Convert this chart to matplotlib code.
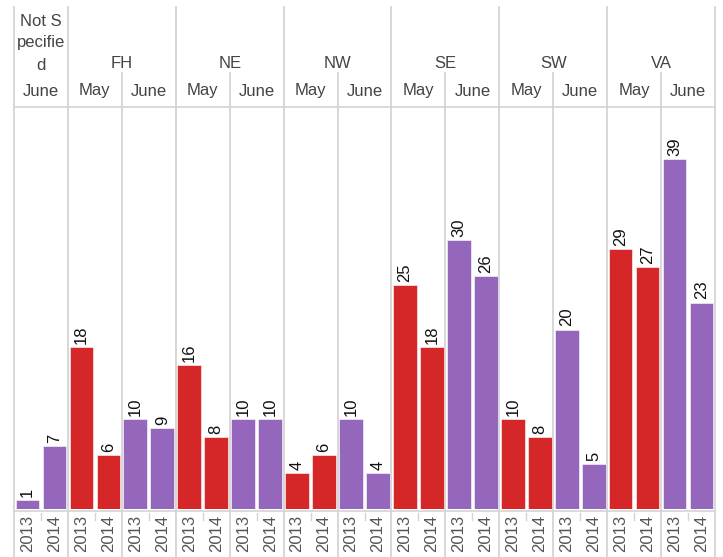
import matplotlib
matplotlib.use("Agg")
import matplotlib.pyplot as plt
from matplotlib.transforms import blended_transform_factory

plt.rcParams['font.family'] = ['Liberation Sans', 'DejaVu Sans']

# ---- data ----
regions = ["Not Specified", "FH", "NE", "NW", "SE", "SW", "VA"]
region_header_lines = {"Not Specified": ["Not S", "pecifie", "d"]}
months_by_region = {
    "Not Specified": ["June"],
    "FH": ["May", "June"], "NE": ["May", "June"], "NW": ["May", "June"],
    "SE": ["May", "June"], "SW": ["May", "June"], "VA": ["May", "June"],
}
years = ["2013", "2014"]
may_2013 = {"FH": 18, "NE": 16, "NW": 4, "SE": 25, "SW": 10, "VA": 29}
may_2014 = {"FH": 6, "NE": 8, "NW": 6, "SE": 18, "SW": 8, "VA": 27}
june_2013 = {"Not Specified": 1, "FH": 10, "NE": 10, "NW": 10, "SE": 30, "SW": 20, "VA": 39}
june_2014 = {"Not Specified": 7, "FH": 9, "NE": 10, "NW": 4, "SE": 26, "SW": 5, "VA": 23}
values = {("May", "2013"): may_2013, ("May", "2014"): may_2014,
          ("June", "2013"): june_2013, ("June", "2014"): june_2014}
month_colors = {"May": "#d62728", "June": "#9467bd"}

W, H = 723, 557
fig = plt.figure(figsize=(W / 100, H / 100), dpi=100)
def fy(p):
    return 1 - p / H

left_px, right_px, top_px, base_px = 14, 715, 107, 509
ax = fig.add_axes([left_px / W, fy(base_px), (right_px - left_px) / W, (base_px - top_px) / H])

text_color = "#444444"
year_color = "#555555"
label_color = "#111111"
line_color = "#d4d4d4"
fs = 12

# build bar sequence
xs, hs, cs, yl = [], [], [], []
region_bounds = []
month_info = []
i = 0
for r in regions:
    r_start = i
    for m in months_by_region[r]:
        m_start = i
        for y in years:
            xs.append(i); hs.append(values[(m, y)][r]); cs.append(month_colors[m]); yl.append(y)
            i += 1
        month_info.append((m, m_start, i - 1))
    region_bounds.append((r, r_start, i - 1))
n = i

ax.bar(xs, hs, width=0.88, color=cs, edgecolor="white", linewidth=0.4, zorder=3)
for x, h in zip(xs, hs):
    ax.text(x, h + 0.35, str(h), rotation=90, ha="center", va="bottom",
            fontsize=fs, color=label_color, zorder=4)

ax.set_xlim(-0.5, n - 0.5)
ax.set_ylim(0, 44.8)
ax.axis("off")

tr = blended_transform_factory(ax.transData, fig.transFigure)

# horizontal lines
for p in (top_px, 511):
    ax.plot([-0.5, n - 0.5], [fy(p), fy(p)], transform=tr, color=line_color, lw=1.2, clip_on=False, zorder=1)

# region dividers
edges = [-0.5] + [b[2] + 0.5 for b in region_bounds]
for e in edges:
    ax.plot([e, e], [fy(7), fy(H)], transform=tr, color=line_color, lw=1.3, clip_on=False, zorder=1)
# month dividers
for (m, s, e) in month_info:
    if s > 0 and (s - 0.5) not in edges:
        ax.plot([s - 0.5, s - 0.5], [fy(73), fy(H)], transform=tr, color=line_color, lw=1.3, clip_on=False, zorder=1)
# year short ticks
for (m, s, e) in month_info:
    for k in range(s, e):
        ax.plot([k + 0.5, k + 0.5], [fy(513), fy(520)], transform=tr, color=line_color, lw=1.0, clip_on=False, zorder=1)

# region headers
for (r, s, e) in region_bounds:
    cx = (s + e) / 2
    if r in region_header_lines:
        for j, ln in enumerate(region_header_lines[r]):
            ax.text(cx, fy(21 + 22 * j), ln, transform=tr, ha="center", va="center", fontsize=fs, color=text_color)
    else:
        ax.text(cx, fy(64), r, transform=tr, ha="center", va="center", fontsize=fs, color=text_color)

# month headers
for (m, s, e) in month_info:
    ax.text((s + e) / 2, fy(91), m, transform=tr, ha="center", va="center", fontsize=fs, color=text_color)

# year labels
for x, y in zip(xs, yl):
    ax.text(x, fy(515), y, transform=tr, ha="center", va="top", rotation=90, fontsize=fs, color=year_color)

fig.savefig("out.png", dpi=100)
